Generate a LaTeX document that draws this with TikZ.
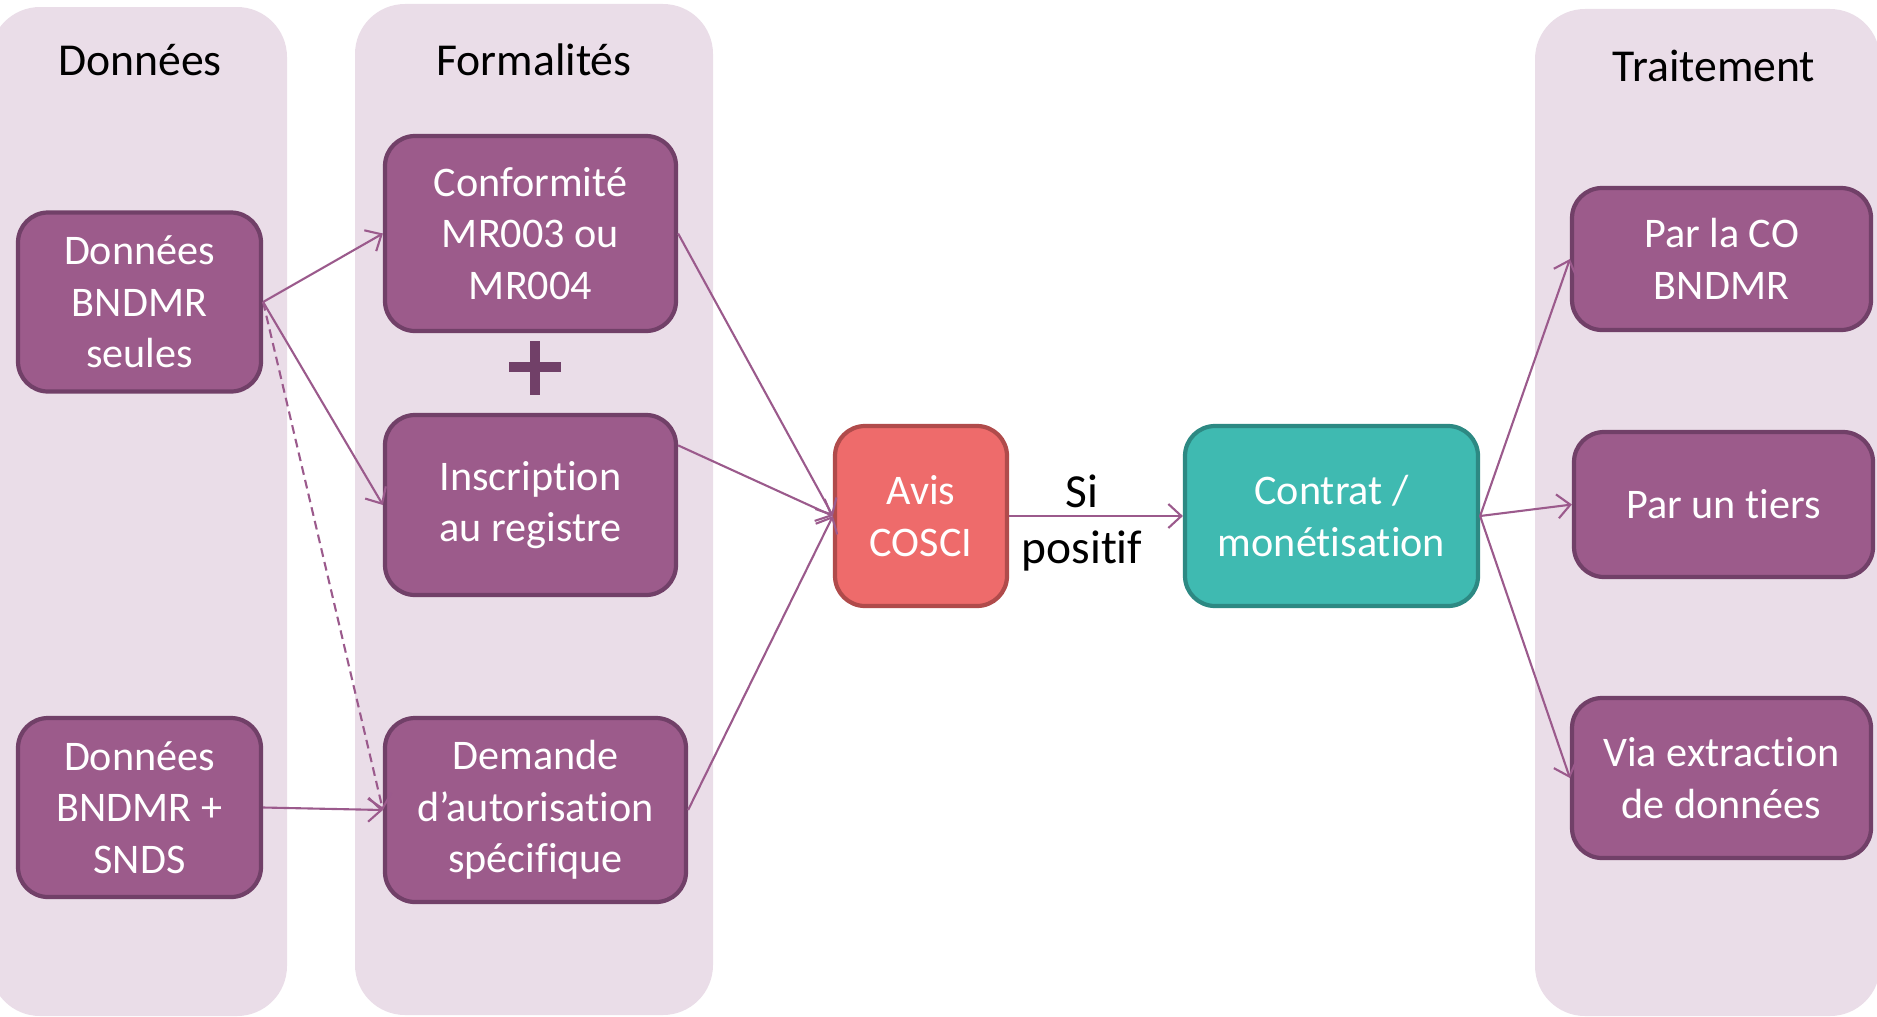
\documentclass[tikz,border=0pt]{standalone}
\usepackage{fontspec}
\setmainfont[Ligatures=CommonOff]{Carlito}
\usetikzlibrary{arrows.meta}

\definecolor{fond}{HTML}{EADDE8}
\definecolor{violet}{HTML}{9C5B8B}
\definecolor{bordure}{HTML}{714068}
\definecolor{trait}{HTML}{9B5A8C}
\definecolor{rouge}{HTML}{EE6B6B}
\definecolor{rougefonce}{HTML}{B04B4B}
\definecolor{turquoise}{HTML}{3FBAB1}
\definecolor{turquoisefonce}{HTML}{2D8983}

\tikzset{
  panneau/.style={fill=fond, rounded corners=0.5cm},
  titre/.style={font=\fontsize{13}{16}\selectfont},
  etape/.style={draw=bordure, fill=violet, line width=1.2pt, rounded corners=0.3cm,
    text=white, align=center, inner sep=0pt, font=\fontsize{12}{14.6}\selectfont},
  fleche/.style={draw=trait, line width=0.6pt, -{Straight Barb[length=1.3mm,width=2.4mm]}},
  signe/.style={draw=bordure, line width=3.1pt}
}

\begin{document}
\begin{tikzpicture}
    \useasboundingbox (0,0) rectangle (18.77,-10.16);
    % colonnes
    \fill[panneau] (-0.1,-0.07) rectangle (2.87,-10.16);
    \fill[panneau] (3.55,-0.04) rectangle (7.13,-10.15);
    \fill[panneau] (15.35,-0.09) rectangle (18.8,-10.16);
    \node[titre] (tdon) at (1.40,-0.60){Données};
    \node[titre] (tform) at (5.34,-0.60){Formalités};
    \node[titre] (ttrait) at (17.14,-0.66){Traitement};

    % donnees
    \node[etape, minimum width=2.43cm, minimum height=1.79cm] (seules) at (1.395,-3.02){Données\\BNDMR\\seules};
    \node[etape, minimum width=2.43cm, minimum height=1.79cm] (snds) at (1.395,-8.075){Données\\BNDMR +\\SNDS};

    % formalites
    \node[etape, minimum width=2.91cm, minimum height=1.95cm] (mr) at (5.305,-2.335){Conformité\\MR003 ou\\MR004};
    \draw[signe] (5.09,-3.67) -- (5.61,-3.67) (5.35,-3.41) -- (5.35,-3.95);
    \node[etape, minimum width=2.91cm, minimum height=1.80cm] (registre) at (5.305,-5.05){Inscription\\au registre};
    \node[etape, minimum width=3.01cm, minimum height=1.84cm] (demande) at (5.355,-8.10){Demande\\d’autorisation\\spécifique};

    % avis et contrat
    \node[etape, draw=rougefonce, fill=rouge, minimum width=1.72cm, minimum height=1.80cm] (avis) at (9.21,-5.16){Avis\\COSCI};
    \node[etape, draw=turquoisefonce, fill=turquoise, minimum width=2.93cm, minimum height=1.80cm] (contrat) at (13.315,-5.16){Contrat /\\monétisation};

    % traitement
    \node[etape, minimum width=2.99cm, minimum height=1.42cm] (co) at (17.215,-2.59){Par la CO\\BNDMR};
    \node[etape, minimum width=2.99cm, minimum height=1.45cm] (tiers) at (17.235,-5.045){Par un tiers};
    \node[etape, minimum width=2.99cm, minimum height=1.60cm] (extraction) at (17.215,-7.78){Via extraction\\de données};

    \draw[fleche] (seules.east) -- (mr.west);
    \draw[fleche] (seules.east) -- (registre.west);
    \draw[fleche, dash pattern=on 2.5pt off 1.5pt] (seules.east) -- (demande.west);
    \draw[fleche] (snds.east) -- (demande.west);
    \draw[fleche] (mr.east) -- (avis.west);
    \draw[fleche] (registre.22) -- (avis.west);
    \draw[fleche] (demande.east) -- (avis.west);
    \draw[fleche] (avis.east) -- node[align=center, font=\fontsize{13.5}{16}\selectfont, xshift=-0.14cm, yshift=-0.07cm] (si) {Si\\positif} (contrat.west);
    \draw[fleche] (contrat.east) -- (co.west);
    \draw[fleche] (contrat.east) -- (tiers.west);
    \draw[fleche] (contrat.east) -- (extraction.west);
\end{tikzpicture}
\end{document}
